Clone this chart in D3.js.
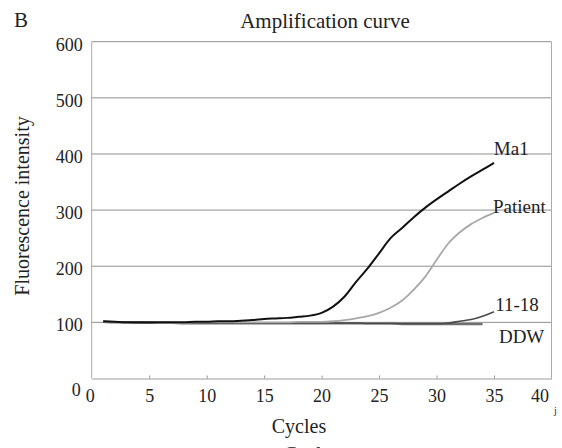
<!DOCTYPE html>
<html>
<head>
<meta charset="utf-8">
<style>
	body { margin: 0; background: #fff; }
	svg text { font-family: "Liberation Serif", "Times New Roman", serif; fill: #222; }
</style>
</head>
<body>
<div id="chart"></div>
<script src="https://cdn.jsdelivr.net/npm/d3@7"></script>
<script>

// cycles 1..35, fluorescence
var cycles = d3.range(1, 36);
var mal     = [102,101,100,100,100,100,100,100,101,101,102,102,103,104,106,107,108,110,112,117,128,146,172,196,223,250,268,287,304,319,333,347,360,372,384];
var patient = [102,101,100,100,100, 99, 99, 99,100,100,100,100,100,100,100,100,100,101,101,101,102,104,107,111,117,126,139,158,181,211,240,260,275,286,295];
var elevenEighteen = [101,101,100,100, 99, 99, 99, 99, 99, 99, 99, 99, 99, 99, 99, 99, 99, 99, 99, 99, 99, 99, 99, 98, 98, 98, 98, 98, 98, 98, 99,102,105,111,119];
var ddw     = [101,100,100, 99, 99, 99, 99, 98, 98, 98, 98, 98, 98, 98, 98, 98, 98, 98, 98, 98, 98, 98, 98, 98, 98, 98, 97, 97, 97, 97, 97, 97, 97, 97];
var seriesNames = ["DDW", "11-18", "Patient", "Ma1"];
var xTicks = [0, 5, 10, 15, 20, 25, 30, 35, 40];
var yTicks = [0, 100, 200, 300, 400, 500, 600];

var width = 562, height = 448;

var x = d3.scaleLinear().domain([0, 40]).range([91.7, 551.5]);
var y = d3.scaleLinear().domain([0, 600]).range([378.5, 41.7]);

var svg = d3.select("#chart").append("svg")
	.attr("width", width)
	.attr("height", height);

svg.append("rect").attr("width", width).attr("height", height).attr("fill", "#fff");

// grid
svg.append("g").selectAll("line")
	.data(yTicks.filter(d => d > 0))
	.enter().append("line")
	.attr("x1", x(0)).attr("x2", x(40))
	.attr("y1", d => y(d)).attr("y2", d => y(d))
	.attr("stroke", "#8f8f8f").attr("stroke-width", 1);

// frame: left, right, bottom
svg.append("line").attr("x1", x(0)).attr("x2", x(0)).attr("y1", y(600)).attr("y2", y(0))
	.attr("stroke", "#ababab").attr("stroke-width", 1);
svg.append("line").attr("x1", x(40)).attr("x2", x(40)).attr("y1", y(600)).attr("y2", y(0))
	.attr("stroke", "#ababab").attr("stroke-width", 1);

var xAxis = svg.append("g")
	.attr("transform", "translate(0," + y(0) + ")")
	.call(d3.axisBottom(x).tickValues(xTicks).tickSizeInner(-3).tickSizeOuter(0).tickPadding(11));
xAxis.select(".domain").attr("stroke", "#9a9a9a");
xAxis.selectAll(".tick line").attr("stroke", "#999");
xAxis.selectAll("text").style("font-size", "18px").attr("fill", "#222")
	.attr("font-family", null);
xAxis.selectAll(".tick").filter(d => d === 0 || d === 40).select("line").remove();
xAxis.selectAll(".tick").filter(d => d === 40).select("text").attr("x", -12);
xAxis.selectAll(".tick").filter(d => d === 0).select("text").attr("x", -2);

var yAxis = svg.append("g")
	.attr("transform", "translate(" + x(0) + ",0)")
	.call(d3.axisLeft(y).tickValues(yTicks).tickSize(0).tickPadding(9));
yAxis.select(".domain").remove();
yAxis.selectAll("text").style("font-size", "18px").attr("fill", "#222")
	.attr("font-family", null).attr("dy", "0.47em");
yAxis.selectAll(".tick").filter(d => d === 0).select("text")
	.attr("x", -11).attr("dy", "0.92em");

// curves
var series = {
	"Ma1": { values: mal, color: "#111", w: 2 },
	"Patient": { values: patient, color: "#a8a8a8", w: 1.8 },
	"11-18": { values: elevenEighteen, color: "#4a4a4a", w: 1.6 },
	"DDW": { values: ddw, color: "#6e6e6e", w: 2.2 }
};

var line = d3.line()
	.x(d => x(d[0]))
	.y(d => y(d[1]))
	.curve(d3.curveMonotoneX);

seriesNames.forEach(function(name) {
	var s = series[name];
	var pts = s.values.map((v, i) => [cycles[i], v]);
	svg.append("path")
		.datum(pts)
		.attr("fill", "none")
		.attr("stroke", s.color)
		.attr("stroke-width", s.w)
		.attr("stroke-linejoin", "round")
		.attr("d", line);
});

// curve labels, placed in data units
var labelAt = { "Ma1": [36.5, 399], "Patient": [37.2, 295], "11-18": [37.0, 121], "DDW": [37.4, 63] };
svg.append("g").selectAll("text")
	.data(seriesNames)
	.enter().append("text")
	.attr("x", d => x(labelAt[d][0]))
	.attr("y", d => y(labelAt[d][1]))
	.attr("text-anchor", "middle")
	.style("font-size", "19px")
	.text(d => d);

// titles
svg.append("text").attr("x", 14).attr("y", 27).style("font-size", "21px").text("B");
svg.append("text").attr("x", 325).attr("y", 28).attr("text-anchor", "middle")
	.style("font-size", "21px").text("Amplification curve");
svg.append("text")
	.attr("transform", "translate(29,206) rotate(-90)")
	.attr("text-anchor", "middle")
	.style("font-size", "20px")
	.text("Fluorescence intensity");
svg.append("text").attr("x", 299).attr("y", 433).attr("text-anchor", "middle")
	.style("font-size", "20px").text("Cycles");

// bits of the scan cut at the edges
svg.append("text").attr("x", 311).attr("y", 461).attr("text-anchor", "middle")
	.style("font-size", "20px").attr("fill", "#333").text("Cycles");
svg.append("text").attr("x", 554).attr("y", 414).style("font-size", "10px").text("j");

</script>
</body>
</html>
